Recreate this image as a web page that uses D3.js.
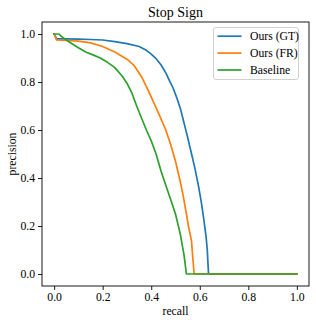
<!DOCTYPE html>
<html>
<head>
<meta charset="utf-8">
<script src="https://cdn.jsdelivr.net/npm/d3@7"></script>
<style>
  body { margin: 0; background: #fff; }
  text { font-family: "Liberation Serif", "DejaVu Serif", serif; fill: #000; }
</style>
</head>
<body>
<div id="chart"></div>
<script>
// series names and colours
const seriesNames = ["Ours (GT)", "Ours (FR)", "Baseline"];
const seriesColors = ["#1f77b4", "#ff7f0e", "#2ca02c"];

// recall / precision pairs
const gtRecall = [0, 0.01, 0.05, 0.1, 0.15, 0.2, 0.25, 0.3, 0.35, 0.38, 0.4, 0.42, 0.44, 0.46, 0.475, 0.49, 0.505, 0.52, 0.53, 0.54, 0.55, 0.565, 0.58, 0.595, 0.607, 0.617, 0.626, 0.631, 0.636, 1.0];
const gtPrecision = [1.0, 0.98, 0.98, 0.979, 0.977, 0.975, 0.968, 0.96, 0.948, 0.932, 0.916, 0.897, 0.872, 0.838, 0.806, 0.775, 0.735, 0.69, 0.65, 0.61, 0.57, 0.505, 0.44, 0.365, 0.295, 0.225, 0.155, 0.1, 0.0, 0.0];

const frRecall = [0, 0.01, 0.05, 0.1, 0.15, 0.2, 0.25, 0.3, 0.33, 0.36, 0.385, 0.41, 0.43, 0.46, 0.48, 0.5, 0.515, 0.53, 0.545, 0.553, 0.566, 0.571, 0.577, 1.0];
const frPrecision = [1.0, 0.975, 0.973, 0.97, 0.963, 0.948, 0.925, 0.895, 0.868, 0.822, 0.77, 0.715, 0.67, 0.6, 0.54, 0.47, 0.405, 0.335, 0.25, 0.2, 0.138, 0.07, 0.0, 0.0];

const blRecall = [0, 0.02, 0.03, 0.05, 0.08, 0.1, 0.13, 0.16, 0.19, 0.22, 0.25, 0.28, 0.3, 0.32, 0.34, 0.36, 0.38, 0.4, 0.42, 0.44, 0.46, 0.48, 0.5, 0.52, 0.535, 0.545, 1.0];
const blPrecision = [1.0, 1.0, 0.99, 0.975, 0.955, 0.943, 0.925, 0.913, 0.9, 0.882, 0.86, 0.825, 0.795, 0.755, 0.7, 0.65, 0.6, 0.555, 0.5, 0.43, 0.37, 0.31, 0.25, 0.165, 0.08, 0.0, 0.0];

const xTicks = [0, 0.2, 0.4, 0.6, 0.8, 1.0];
const yTicks = [0, 0.2, 0.4, 0.6, 0.8, 1.0];

const W = 316, H = 325;
const margin = { top: 22, right: 7, bottom: 39, left: 42 };
const fs = 11.7;

const svg = d3.select("#chart").append("svg")
  .attr("width", W).attr("height", H);

const x = d3.scaleLinear().domain([-0.05, 1.05]).range([margin.left, W - margin.right]);
const y = d3.scaleLinear().domain([-0.05, 1.05]).range([H - margin.bottom, margin.top]);

const series = [
  { r: gtRecall, p: gtPrecision },
  { r: frRecall, p: frPrecision },
  { r: blRecall, p: blPrecision }
];

const line = d3.line().x(d => x(d[0])).y(d => y(d[1]));

series.forEach(function(s, i) {
  const pts = s.r.map((v, j) => [v, s.p[j]]);
  svg.append("path")
    .attr("d", line(pts))
    .attr("fill", "none")
    .attr("stroke", seriesColors[i])
    .attr("stroke-width", 1.7)
    .attr("stroke-linejoin", "round")
    .attr("stroke-linecap", "square");
});

// axes
const xAxis = svg.append("g")
  .attr("transform", `translate(0,${H - margin.bottom})`)
  .call(d3.axisBottom(x).tickValues(xTicks).tickFormat(d3.format(".1f")).tickSize(4).tickPadding(3));
const yAxis = svg.append("g")
  .attr("transform", `translate(${margin.left},0)`)
  .call(d3.axisLeft(y).tickValues(yTicks).tickFormat(d3.format(".1f")).tickSize(4).tickPadding(3));

[xAxis, yAxis].forEach(function(g) {
  g.select(".domain").remove();
  g.selectAll(".tick line").attr("stroke", "#000").attr("stroke-width", 0.9);
  g.selectAll(".tick text")
    .style("font-family", "Liberation Serif, DejaVu Serif, serif")
    .style("font-size", fs + "px");
});

// frame
svg.append("rect")
  .attr("x", margin.left).attr("y", margin.top)
  .attr("width", W - margin.left - margin.right)
  .attr("height", H - margin.top - margin.bottom)
  .attr("fill", "none").attr("stroke", "#000").attr("stroke-width", 0.9);

// labels
svg.append("text")
  .attr("x", (margin.left + W - margin.right) / 2).attr("y", 17)
  .attr("text-anchor", "middle").style("font-size", "14px")
  .text("Stop Sign");
svg.append("text")
  .attr("x", (margin.left + W - margin.right) / 2).attr("y", 315)
  .attr("text-anchor", "middle").style("font-size", fs + "px")
  .text("recall");
svg.append("text")
  .attr("transform", `translate(16,${(margin.top + H - margin.bottom) / 2}) rotate(-90)`)
  .attr("text-anchor", "middle").style("font-size", fs + "px")
  .text("precision");

// legend
const leg = svg.append("g").attr("transform", "translate(213.5,27.5)");
leg.append("rect")
  .attr("width", 85).attr("height", 52).attr("rx", 2.5)
  .attr("fill", "#fff").attr("fill-opacity", 0.8)
  .attr("stroke", "#ccc").attr("stroke-width", 0.9);
seriesNames.forEach(function(name, i) {
  const yy = 8.7 + i * 16.9;
  leg.append("line")
    .attr("x1", 4).attr("x2", 28).attr("y1", yy).attr("y2", yy)
    .attr("stroke", seriesColors[i]).attr("stroke-width", 1.7);
  leg.append("text")
    .attr("x", 36.5).attr("y", yy + 4)
    .style("font-size", fs + "px")
    .text(name);
});
</script>
</body>
</html>
